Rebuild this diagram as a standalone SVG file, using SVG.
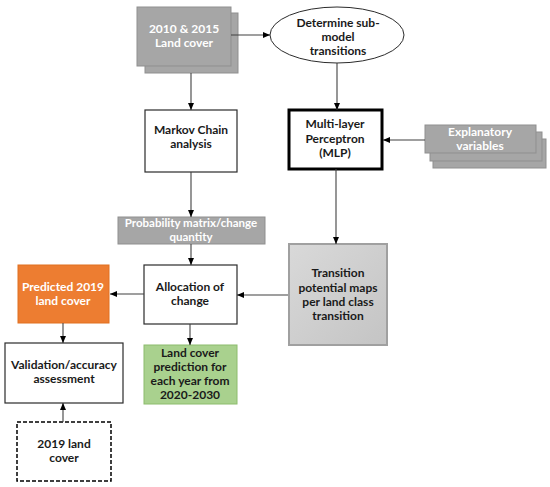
<svg xmlns="http://www.w3.org/2000/svg" width="550" height="487" viewBox="0 0 550 487">
<defs>
<marker id="ah" markerWidth="8" markerHeight="8" refX="7" refY="4" orient="auto" markerUnits="userSpaceOnUse">
<path d="M0,1 L7,4 L0,7 Z" fill="#000"/>
</marker>
<linearGradient id="gg" x1="0" y1="0" x2="1" y2="1">
<stop offset="0" stop-color="#d9d9d9"/>
<stop offset="1" stop-color="#c4c4c4"/>
</linearGradient>
</defs>
<style>
text{font-family:Lato,"Liberation Sans",sans-serif;font-weight:bold;font-size:12px;text-anchor:middle;fill:#1a1a1a}
.w{fill:#ffffff}
.s{font-size:11.5px}
.gray{fill:#a6a6a6;stroke:#8f8f8f;stroke-width:1}
.white{fill:#fff;stroke:#2b2b2b;stroke-width:1.2}
.c{stroke:#404040;stroke-width:1.1;fill:none;marker-end:url(#ah)}
</style>
<rect width="550" height="487" fill="#fff"/>

<g id="landcover">
<rect class="gray" x="145" y="13" width="93" height="60"/>
<rect class="gray" x="137" y="7" width="94" height="59"/>
<text class="w" x="184" y="33">2010 &amp; 2015</text>
<text class="w" x="184" y="47">Land cover</text>
</g>

<g id="submodel">
<ellipse cx="337" cy="35" rx="67" ry="28" fill="#fff" stroke="#2b2b2b" stroke-width="1"/>
<text x="338" y="27">Determine sub-</text>
<text x="338" y="41">model</text>
<text x="338" y="55">transitions</text>
</g>

<g id="markov">
<rect class="white" x="145" y="110" width="92" height="62"/>
<text x="191" y="134">Markov Chain</text>
<text x="191" y="148">analysis</text>
</g>

<g id="mlp">
<rect x="289" y="110" width="93" height="59" fill="#fff" stroke="#000" stroke-width="3"/>
<text x="335" y="128">Multi-layer</text>
<text x="335" y="143">Perceptron</text>
<text x="335" y="157">(MLP)</text>
</g>

<g id="explanatory">
<rect class="gray" x="433" y="139" width="113" height="29"/>
<rect class="gray" x="430" y="132" width="112" height="29"/>
<rect class="gray" x="425" y="125" width="111" height="28"/>
<text class="w" x="480" y="136">Explanatory</text>
<text class="w" x="480" y="150">variables</text>
</g>

<g id="probability">
<rect class="gray" x="118" y="217" width="147" height="27"/>
<text class="w s" x="191" y="227">Probability matrix/change</text>
<text class="w s" x="191" y="241">quantity</text>
</g>

<g id="allocation">
<rect class="white" x="144" y="265" width="93" height="59"/>
<text x="190" y="291">Allocation of</text>
<text x="190" y="305">change</text>
</g>

<g id="predicted">
<rect x="18" y="265" width="91" height="58" fill="#ed7d31" stroke="#e07020" stroke-width="1"/>
<text class="w" x="63" y="291">Predicted 2019</text>
<text class="w" x="63" y="305">land cover</text>
</g>

<g id="transition">
<rect x="289" y="244" width="98" height="101" fill="url(#gg)" stroke="#a0a0a0" stroke-width="2"/>
<text x="338" y="277">Transition</text>
<text x="338" y="292">potential maps</text>
<text x="338" y="306">per land class</text>
<text x="338" y="320">transition</text>
</g>

<g id="validation">
<rect class="white" x="5" y="343" width="118" height="60"/>
<text x="64" y="369">Validation/accuracy</text>
<text x="64" y="383">assessment</text>
</g>

<g id="prediction">
<rect x="144" y="345" width="93" height="59" fill="#a9d18e" stroke="#8cbc6c" stroke-width="1"/>
<text x="190" y="357">Land cover</text>
<text x="190" y="371">prediction for</text>
<text x="190" y="385">each year from</text>
<text x="190" y="399">2020-2030</text>
</g>

<g id="landcover2019">
<rect x="17" y="422" width="94" height="59" fill="#fff" stroke="#000" stroke-width="1.5" stroke-dasharray="4,2"/>
<text x="64" y="448">2019 land</text>
<text x="64" y="462">cover</text>
</g>

<g id="connectors">
<line class="c" x1="231" y1="35" x2="270" y2="35"/>
<line class="c" x1="337" y1="63" x2="337" y2="110"/>
<line class="c" x1="191" y1="73" x2="191" y2="110"/>
<line class="c" x1="425" y1="140" x2="383" y2="140"/>
<line class="c" x1="191" y1="172" x2="191" y2="217"/>
<line class="c" x1="336" y1="169" x2="336" y2="244"/>
<line class="c" x1="191" y1="244" x2="191" y2="265"/>
<line class="c" x1="288" y1="295" x2="237" y2="295"/>
<line class="c" x1="144" y1="294" x2="110" y2="294"/>
<line class="c" x1="190" y1="324" x2="190" y2="345"/>
<line class="c" x1="63" y1="323" x2="63" y2="343"/>
<line class="c" x1="63" y1="422" x2="63" y2="403"/>
</g>
</svg>
